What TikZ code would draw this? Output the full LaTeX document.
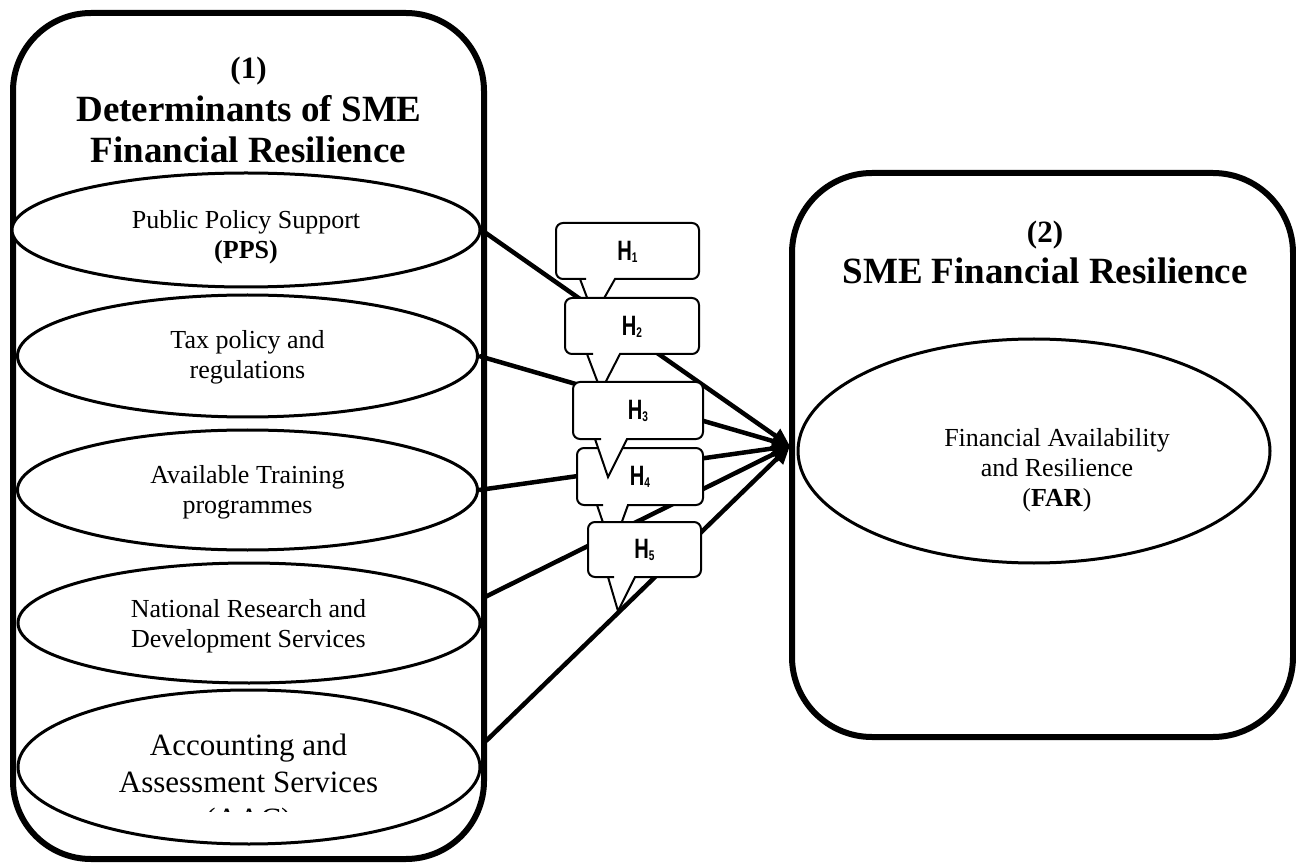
\documentclass[tikz,border=0pt]{standalone}
\usepackage{fontspec}
\setmainfont{Liberation Serif}
\newfontfamily\hfont[FakeStretch=0.72]{Liberation Sans Bold}
\usetikzlibrary{shapes.geometric,arrows.meta}
\newcommand\hsub[1]{\raisebox{-2pt}{\fontsize{14}{14}\selectfont #1}}
\newcommand\hcallout[8]{%
  \draw[hcall] ({(#1+#3)/2},#2) [rounded corners=7pt] -- (#1,#2) -- (#1,#4) -- ({#5-1},#4)
    [sharp corners] -- (#5,#4) -- (#7,#8) -- (#6,#4) -- ({#6+1},#4)
    [rounded corners=7pt] -- (#3,#4) -- (#3,#2) -- cycle;}
\begin{document}
\begin{tikzpicture}[x=1pt,y=-1pt,
  bigbox/.style={draw, line width=6pt, rounded corners=78pt, inner sep=0pt},
  oval/.style={ellipse, draw, line width=3pt, fill=white, inner sep=0pt},
  otext/.style={align=center, inner sep=0pt, font=\fontsize{26}{30}\selectfont},
  link/.style={line width=4.5pt, -{Triangle[length=18pt,width=16pt]}},
  hcall/.style={draw, line width=2pt, fill=white},
  hlabel/.style={font=\hfont\fontsize{28}{28}\selectfont, inner sep=0pt},
  ttl/.style={font=\fontsize{37}{41}\selectfont\bfseries, anchor=base, inner sep=0pt},
  num/.style={font=\fontsize{31}{36}\selectfont\bfseries, anchor=base, inner sep=0pt},
]
\useasboundingbox (0,0) rectangle (1296,866);

% containers
\node[bigbox, minimum width=471pt, minimum height=846pt] (leftbox) at (248.5,436) {};
\node[bigbox, minimum width=501pt, minimum height=564pt, rounded corners=80pt] (rightbox) at (1042.5,455) {};

% titles
\node[num] (n1) at (248.5,79) {(1)};
\node[ttl] (t1a) at (249,122) {Determinants of SME};
\node[ttl] (t1b) at (248.5,163) {Financial Resilience};
\node[num] (n2) at (1045,243) {(2)};
\node[ttl] (t2) at (1045,284) {SME Financial Resilience};

% determinant ellipses
\node[oval, minimum width=468pt, minimum height=114pt] (pps) at (246,230) {};
\node[otext] (ppst) at (246,237) {Public Policy Support\\\textbf{(PPS)}};
\node[oval, minimum width=460pt, minimum height=122pt] (tax) at (247.5,356) {};
\node[otext] (taxt) at (247.5,357) {Tax policy and\\regulations};
\node[oval, minimum width=460pt, minimum height=120pt] (train) at (247.5,490) {};
\node[otext] (traint) at (247.5,492) {Available Training\\programmes};
\node[oval, minimum width=462pt, minimum height=120pt] (nat) at (249,623) {};
\node[otext] (natt) at (248.5,626) {National Research and\\Development Services};
\node[oval, minimum width=462pt, minimum height=154pt] (acc) at (249,767) {};
\begin{scope}
  \clip (0,0) rectangle (1296,811);
  \node[otext, font=\fontsize{31}{37}\selectfont] (acct) at (248.5,785) {Accounting and\\Assessment Services\\(AAC)};
\end{scope}

% outcome ellipse
\node[oval, minimum width=472pt, minimum height=224pt] (far) at (1034,451) {};
\node[otext] (fart) at (1057,470) {Financial Availability\\and Resilience\\(\textbf{FAR})};

% connectors
\coordinate (tip) at (790,446);
\coordinate (natout) at (485,597);
\coordinate (accout) at (486,741);
\draw[link] (pps.east) -- (tip);
\draw[link] (tax.east) -- (tip);
\draw[link] (train.east) -- (tip);
\draw[link] (natout) -- (tip);
\draw[link] (accout) -- (tip);

% hypothesis callouts
\hcallout{556}{223}{699}{279}{580}{615}{594}{316}
\node[hlabel] (h1) at (627.5,252) {H\hsub{1}};
\hcallout{565}{298}{699}{354}{587}{620}{601}{391}
\node[hlabel] (h2) at (632,327) {H\hsub{2}};
\hcallout{577}{448}{703}{505}{597}{628}{612}{549}
\node[hlabel] (h4) at (640,477) {H\hsub{4}};
\hcallout{573}{382}{703}{439}{595}{627}{608}{477}
\node[hlabel] (h3) at (638,411) {H\hsub{3}};
\hcallout{588}{522}{701}{577}{608}{635}{618}{611}
\node[hlabel] (h5) at (644.5,550) {H\hsub{5}};
\end{tikzpicture}
\end{document}
